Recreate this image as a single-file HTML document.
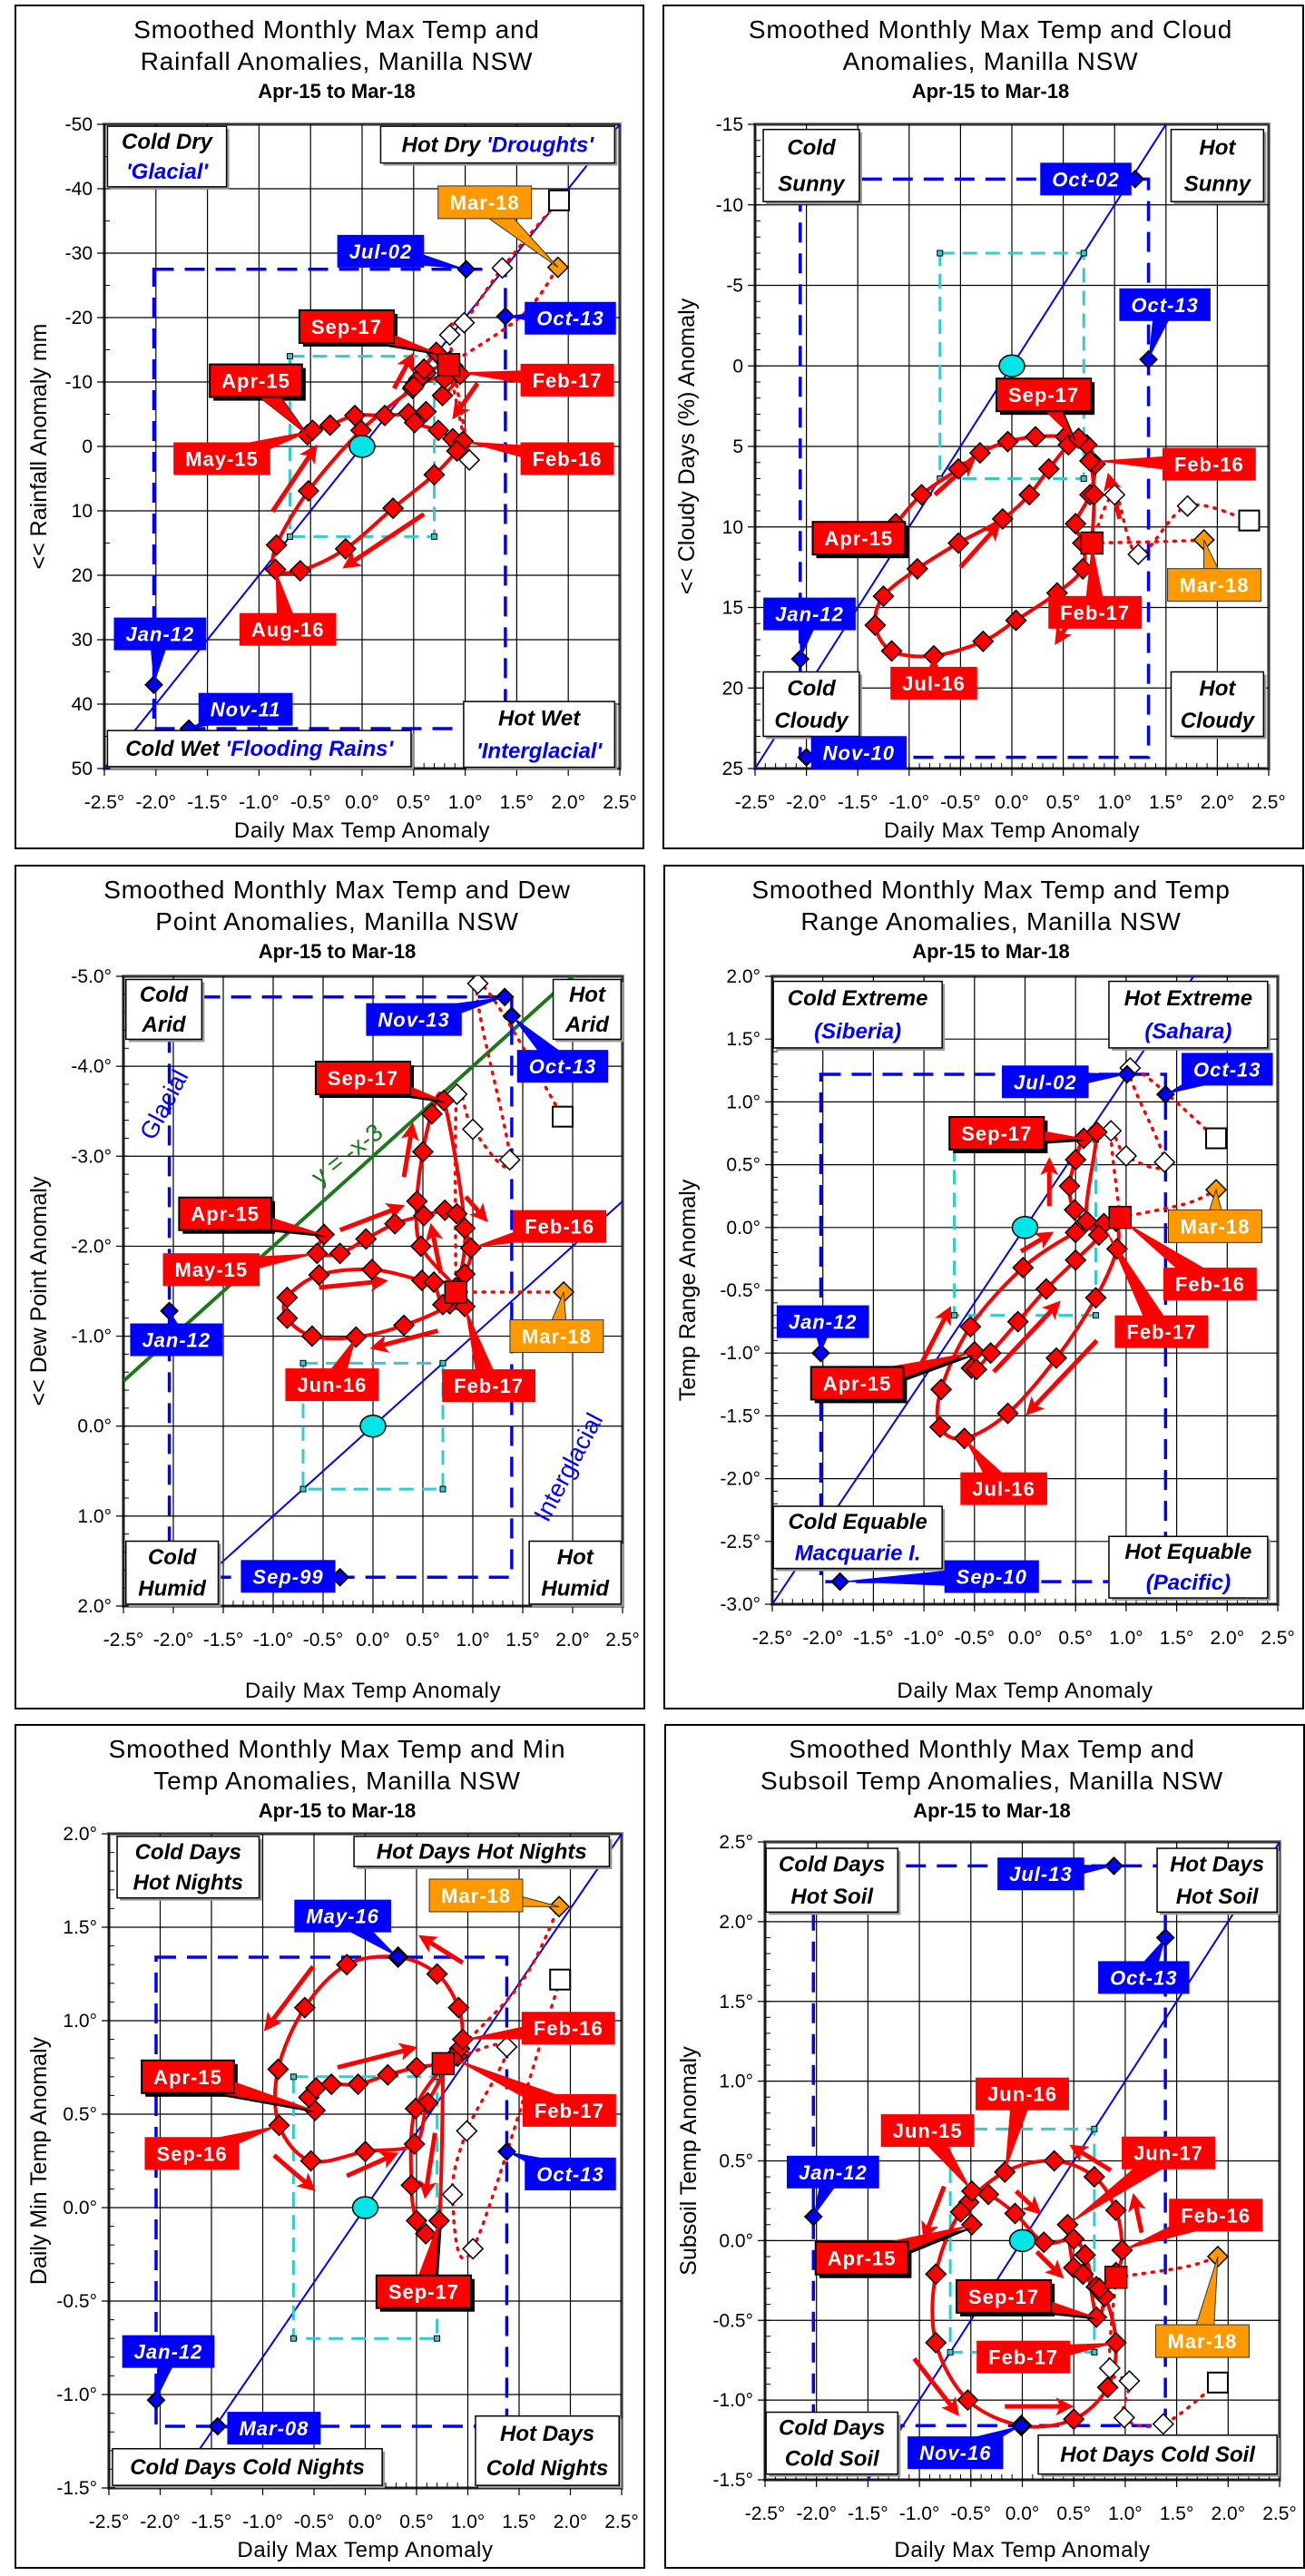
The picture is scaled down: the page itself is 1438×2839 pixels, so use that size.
<!DOCTYPE html>
<html><head><meta charset="utf-8"><title>Smoothed Monthly Max Temp Anomaly Charts, Manilla NSW</title>
<style>
html,body{margin:0;padding:0;background:#fff;}
svg{display:block;}
text{font-family:"Liberation Sans",Arial,sans-serif;}
</style></head>
<body>
<svg id="chart" xmlns="http://www.w3.org/2000/svg" width="1438" height="2839" viewBox="0 0 1438 2839">
<defs>
<marker id="ah" markerWidth="4" markerHeight="4" refX="2.6" refY="2" orient="auto" markerUnits="strokeWidth"><path d="M0,0 L4,2 L0,4 L1,2 Z" fill="#ff0000"/></marker>
</defs>
</svg>
<script>
// ---------- shared axis data ----------
const xTicks=[-2.5,-2,-1.5,-1,-0.5,0,0.5,1,1.5,2,2.5];
const xTickLabels=['-2.5°','-2.0°','-1.5°','-1.0°','-0.5°','0.0°','0.5°','1.0°','1.5°','2.0°','2.5°'];

// ---------- Panel 1: Rainfall ----------
const p1YTicks=[-50,-40,-30,-20,-10,0,10,20,30,40,50];
const p1LoopX=[-0.53,-0.48,-0.31,-0.07,0.22,0.45,0.62,0.51,0.74,0.88,0.98,0.92,0.70,0.30,-0.16,-0.60,-0.84,-0.83,-0.52,-0.01,0.49,0.52,0.92,0.88,0.82,0.62,0.55,0.50,0.60,0.72,0.85,0.95,0.78,0.80,0.84];
const p1LoopY=[-1.8,-2.5,-3.3,-4.8,-4.8,-5.1,-5.4,-3.7,-2.5,-1.2,-0.8,0.7,4.4,9.6,15.9,19.3,19.1,15.3,6.9,-2.5,-9.0,-9.8,-11.5,-12.5,-12.9,-11.4,-10.5,-9.3,-12.0,-14.6,-13.2,-11.2,-7.9,-10.5,-12.7];
const p1WhiteX=[1.04,0.85,0.99,1.36];
const p1WhiteY=[2.1,-17.3,-19.2,-27.7];
const p1SquareX=[1.91], p1SquareY=[-38.2];
const p1OrangeX=[1.90], p1OrangeY=[-27.8];
const p1BlueX=[1.01,1.39,-2.02,-1.68];
const p1BlueY=[-27.5,-20.2,37,43.8];
const p1Arrows=[[-0.87,10.1,-0.47,0.5],[0.31,-9,0.47,-13.7],[1.12,-9.8,0.91,-5],[0.6,10.5,-0.14,18.4]];
const p1Callouts=[
 {t:'Mar-18',c:'o',bx:1.19,by:-37.9,tx:1.90,ty:-27.8},
 {t:'Jul-02',c:'b',bx:0.18,by:-30.3,tx:1.01,ty:-27.5},
 {t:'Sep-17',c:'r',s:1,bx:-0.15,by:-18.6,tx:0.72,ty:-14.6},
 {t:'Apr-15',c:'r',s:1,bx:-1.03,by:-10.2,tx:-0.53,ty:-1.8},
 {t:'May-15',c:'r',bx:-1.36,by:1.9,tx:-0.48,ty:-2.5},
 {t:'Feb-17',c:'r',bx:1.99,by:-10.3,tx:0.92,ty:-11.5},
 {t:'Feb-16',c:'r',bx:1.99,by:1.9,tx:0.98,ty:-0.8},
 {t:'Oct-13',c:'b',bx:2.02,by:-19.9,tx:1.39,ty:-20.2},
 {t:'Aug-16',c:'r',bx:-0.72,by:28.4,tx:-0.84,ty:19.1},
 {t:'Jan-12',c:'b',bx:-1.96,by:29.1,tx:-2.02,ty:37},
 {t:'Nov-11',c:'b',bx:-1.13,by:40.8,tx:-1.68,ty:43.8}];

// ---------- Panel 2: Cloud ----------
const p2YTicks=[-15,-10,-5,0,5,10,15,20,25];
const p2LoopX=[-1.13,-0.88,-0.52,-0.31,-0.04,0.23,0.52,0.73,0.81,0.76,0.62,0.69,0.69,0.44,0.04,-0.28,-0.76,-1.17,-1.33,-1.25,-0.92,-0.52,-0.09,0.17,0.36,0.55,0.65,0.76,0.80,0.78];
const p2LoopY=[9.8,8.0,6.4,5.4,4.7,4.4,4.4,4.9,6.1,8.0,9.8,11.0,12.6,14.1,15.8,17.1,18.0,17.7,16.1,14.3,12.6,11.0,9.5,8.0,6.4,4.9,4.5,5.9,8.0,11.0];
const p2WhiteX=[1.0,1.23,1.71];
const p2WhiteY=[8,11.7,8.7];
const p2SquareX=[2.31], p2SquareY=[9.6];
const p2OrangeX=[1.87], p2OrangeY=[10.8];
const p2BlueX=[1.2,1.33,-2.06,-2.0];
const p2BlueY=[-11.6,-0.4,18.2,24.3];
const p2Arrows=[[-0.5,12.5,-0.15,10],[0.7,14.5,0.45,17],[1.05,9.5,0.95,7],[-0.75,8,-0.4,6]];
const p2Callouts=[
 {t:'Oct-02',c:'b',bx:0.72,by:-11.6,tx:1.2,ty:-11.6},
 {t:'Oct-13',c:'b',bx:1.49,by:-3.8,tx:1.33,ty:-0.4},
 {t:'Sep-17',c:'r',s:1,bx:0.31,by:1.8,tx:0.6,ty:4.5},
 {t:'Feb-16',c:'r',bx:1.92,by:6.1,tx:0.8,ty:5.9},
 {t:'Apr-15',c:'r',s:1,bx:-1.49,by:10.7,tx:-1.13,ty:9.8},
 {t:'Mar-18',c:'o',bx:1.97,by:13.6,tx:1.87,ty:10.8},
 {t:'Feb-17',c:'r',bx:0.81,by:15.3,tx:0.78,ty:11},
 {t:'Jul-16',c:'r',bx:-0.76,by:19.7,tx:-0.76,ty:18},
 {t:'Jan-12',c:'b',bx:-1.97,by:15.4,tx:-2.06,ty:18.2},
 {t:'Nov-10',c:'b',bx:-1.49,by:24.0,tx:-2.0,ty:24.3}];

// ---------- Panel 3: Dew point ----------
const p3YTicks=[-5,-4,-3,-2,-1,0,1,2];
const p3LoopX=[-0.49,-0.56,-0.33,-0.07,0.22,0.51,0.72,0.84,0.98,0.92,0.77,0.31,-0.17,-0.61,-0.86,-0.86,-0.54,-0.01,0.49,0.61,0.70,0.92,0.83,0.48,0.44,0.50,0.59,0.71,0.92,0.83];
const p3LoopY=[-2.13,-1.92,-1.92,-2.08,-2.25,-2.34,-2.4,-2.36,-1.98,-1.69,-1.36,-1.12,-0.99,-1.0,-1.2,-1.43,-1.68,-1.74,-1.62,-1.6,-1.35,-1.33,-1.54,-2.0,-2.5,-3.05,-3.47,-3.62,-2.2,-1.49];
const p3WhiteX=[0.84,1.0,1.37,1.05];
const p3WhiteY=[-3.69,-3.3,-2.96,-4.92];
const p3SquareX=[1.9], p3SquareY=[-3.44];
const p3OrangeX=[1.91], p3OrangeY=[-1.49];
const p3BlueX=[1.32,1.39,-2.04,-0.33];
const p3BlueY=[-4.77,-4.56,-1.28,1.68];
const p3Arrows=[[-0.33,-2.18,0.26,-2.43],[0.31,-2.77,0.39,-3.31],[0.93,-2.55,1.11,-2.32],[0.68,-1.7,0.59,-2.19],[-0.54,-1.54,0.09,-1.61],[0.65,-1.06,0.03,-0.88]];
const p3Callouts=[
 {t:'Nov-13',c:'b',bx:0.41,by:-4.52,tx:1.32,ty:-4.77},
 {t:'Oct-13',c:'b',bx:1.9,by:-4.0,tx:1.39,ty:-4.56},
 {t:'Sep-17',c:'r',s:1,bx:-0.1,by:-3.87,tx:0.71,ty:-3.62},
 {t:'Apr-15',c:'r',s:1,bx:-1.48,by:-2.36,tx:-0.49,ty:-2.13},
 {t:'May-15',c:'r',bx:-1.62,by:-1.74,tx:-0.56,ty:-1.92},
 {t:'Feb-16',c:'r',bx:1.87,by:-2.22,tx:0.98,ty:-1.98},
 {t:'Mar-18',c:'o',bx:1.84,by:-1.0,tx:1.91,ty:-1.49},
 {t:'Jan-12',c:'b',bx:-1.97,by:-0.96,tx:-2.04,ty:-1.28},
 {t:'Jun-16',c:'r',bx:-0.41,by:-0.46,tx:-0.17,ty:-0.99},
 {t:'Feb-17',c:'r',bx:1.16,by:-0.45,tx:0.92,ty:-1.33},
 {t:'Sep-99',c:'b',bx:-0.85,by:1.67,tx:-0.33,ty:1.68}];

// ---------- Panel 4: Temp range ----------
const p4YTicks=[2,1.5,1,0.5,0,-0.5,-1,-1.5,-2,-2.5,-3];
const p4LoopX=[-0.50,-0.53,-0.48,-0.34,-0.07,0.21,0.50,0.73,0.61,0.78,0.90,0.91,0.70,0.31,-0.17,-0.60,-0.84,-0.83,-0.54,-0.02,0.50,0.78,0.73,0.49,0.44,0.50,0.58,0.71,0.61,0.94];
const p4LoopY=[-0.99,-1.12,-1.13,-1.0,-0.75,-0.49,-0.26,-0.06,0.05,0.03,0.05,-0.17,-0.56,-1.04,-1.48,-1.68,-1.59,-1.29,-0.79,-0.32,-0.04,0.03,-0.06,0.14,0.33,0.54,0.71,0.76,0.05,0.08];
const p4WhiteX=[0.85,1.0,1.38,1.04];
const p4WhiteY=[0.77,0.57,0.52,1.27];
const p4SquareX=[1.89], p4SquareY=[0.71];
const p4OrangeX=[1.89], p4OrangeY=[0.3];
const p4BlueX=[1.01,1.39,-2.02,-1.83];
const p4BlueY=[1.22,1.06,-1.0,-2.82];
const p4Arrows=[[0.24,0.17,0.24,0.51],[-0.04,-0.19,0.23,-0.06],[-1.03,-1.09,-0.76,-0.67],[-0.31,-1.15,0.31,-0.62],[0.71,-0.9,0.05,-1.46]];
const p4Callouts=[
 {t:'Jul-02',c:'b',bx:0.2,by:1.16,tx:1.01,ty:1.22},
 {t:'Oct-13',c:'b',bx:2.0,by:1.26,tx:1.39,ty:1.06},
 {t:'Sep-17',c:'r',s:1,bx:-0.28,by:0.75,tx:0.58,ty:0.71},
 {t:'Mar-18',c:'o',bx:1.88,by:0.01,tx:1.89,ty:0.3},
 {t:'Feb-16',c:'r',bx:1.83,by:-0.45,tx:0.97,ty:0.05},
 {t:'Feb-17',c:'r',bx:1.35,by:-0.83,tx:0.8,ty:-0.02},
 {t:'Apr-15',c:'r',s:1,bx:-1.66,by:-1.24,tx:-0.5,ty:-0.99},
 {t:'Jul-16',c:'r',bx:-0.21,by:-2.08,tx:-0.6,ty:-1.68},
 {t:'Jan-12',c:'b',bx:-2.0,by:-0.75,tx:-2.02,ty:-1.0},
 {t:'Sep-10',c:'b',bx:-0.33,by:-2.78,tx:-1.83,ty:-2.82}];

// ---------- Panel 5: Min temp ----------
const p5YTicks=[2,1.5,1,0.5,0,-0.5,-1,-1.5];
const p5LoopX=[-0.49,-0.55,-0.48,-0.33,-0.07,0.22,0.5,0.76,0.9,0.92,0.95,0.91,0.7,0.32,-0.18,-0.59,-0.85,-0.84,-0.53,0,0.48,0.61,0.85,0.49,0.45,0.5,0.59,0.72,0.76];
const p5LoopY=[0.52,0.59,0.64,0.66,0.66,0.71,0.75,0.77,0.81,0.85,0.9,1.07,1.25,1.34,1.3,1.07,0.74,0.44,0.25,0.3,0.34,0.56,0.8,0.53,0.12,-0.07,-0.14,-0.07,0.77];
const p5WhiteX=[1.38,0.99,0.85,1.05];
const p5WhiteY=[0.86,0.41,0.07,-0.22];
const p5SquareX=[1.9], p5SquareY=[1.22];
const p5OrangeX=[1.89], p5OrangeY=[1.61];
const p5BlueX=[0.32,-2.04,-1.44,1.38];
const p5BlueY=[1.34,-1.03,-1.17,0.3];
const p5Arrows=[[-0.51,1.29,-0.95,0.97],[0.95,1.31,0.57,1.44],[-0.27,0.75,0.45,0.85],[-0.89,0.28,-0.53,0.11],[-0.18,0.17,0.27,0.28],[0.68,0.4,0.59,0.08]];
const p5Callouts=[
 {t:'Mar-18',c:'o',bx:1.08,by:1.67,tx:1.89,ty:1.61},
 {t:'May-16',c:'b',bx:-0.22,by:1.56,tx:0.32,ty:1.34},
 {t:'Feb-16',c:'r',bx:1.98,by:0.96,tx:0.95,ty:0.9},
 {t:'Apr-15',c:'r',s:1,bx:-1.73,by:0.7,tx:-0.49,ty:0.52},
 {t:'Feb-17',c:'r',bx:1.99,by:0.52,tx:0.85,ty:0.8},
 {t:'Sep-16',c:'r',bx:-1.69,by:0.29,tx:-0.84,ty:0.44},
 {t:'Oct-13',c:'b',bx:2.0,by:0.18,tx:1.38,ty:0.3},
 {t:'Sep-17',c:'r',s:1,bx:0.57,by:-0.45,tx:0.72,ty:-0.07},
 {t:'Jan-12',c:'b',bx:-1.92,by:-0.77,tx:-2.04,ty:-1.03},
 {t:'Mar-08',c:'b',bx:-0.89,by:-1.18,tx:-1.44,ty:-1.17}];

// ---------- Panel 6: Subsoil ----------
const p6YTicks=[2.5,2,1.5,1,0.5,0,-0.5,-1,-1.5];
const p6LoopX=[-0.49,-0.52,-0.49,-0.33,-0.07,0.21,0.5,0.61,0.72,0.91,0.97,0.91,0.7,0.31,-0.17,-0.6,-0.84,-0.84,-0.53,-0.01,0.5,0.83,0.91,0.8,0.59,0.5,0.44,0.5,0.61,0.72,0.8,0.72,0.59,0.75,0.91];
const p6LoopY=[0.10,0.24,0.31,0.29,0.17,-0.01,0.01,-0.09,-0.29,-0.2,-0.06,0.19,0.4,0.5,0.43,0.18,-0.21,-0.64,-1.0,-1.16,-1.12,-0.92,-0.64,-0.35,-0.21,-0.17,0.1,0.01,-0.09,-0.48,-0.35,-0.29,-0.21,-0.3,-0.23];
const p6WhiteX=[0.85,1.04,0.99,1.37];
const p6WhiteY=[-0.8,-0.88,-1.11,-1.15];
const p6SquareX=[1.9], p6SquareY=[-0.89];
const p6OrangeX=[1.9], p6OrangeY=[-0.1];
const p6BlueX=[0.89,1.39,-2.03,-0.01];
const p6BlueY=[2.35,1.9,0.15,-1.16];
const p6Arrows=[[-0.76,0.34,-0.94,0.04],[-0.06,0.31,0.14,0.19],[0.14,-0.07,0.36,-0.21],[0.86,0.44,0.51,0.58],[1.16,0.05,1.09,0.26],[-1.05,-0.74,-0.65,-1.07],[-0.17,-1.04,0.44,-1.04]];
const p6Callouts=[
 {t:'Jun-16',c:'r',bx:0,by:0.92,tx:-0.17,ty:0.43},
 {t:'Jun-15',c:'r',bx:-0.92,by:0.69,tx:-0.49,ty:0.31},
 {t:'Jun-17',c:'r',bx:1.42,by:0.55,tx:0.44,ty:0.1},
 {t:'Feb-16',c:'r',bx:1.88,by:0.16,tx:0.97,ty:-0.06},
 {t:'Apr-15',c:'r',s:1,bx:-1.56,by:-0.11,tx:-0.49,ty:0.10},
 {t:'Sep-17',c:'r',s:1,bx:-0.18,by:-0.35,tx:0.72,ty:-0.48},
 {t:'Feb-17',c:'r',bx:0.01,by:-0.73,tx:0.91,ty:-0.64},
 {t:'Mar-18',c:'o',bx:1.75,by:-0.63,tx:1.9,ty:-0.1},
 {t:'Jul-13',c:'b',bx:0.18,by:2.3,tx:0.89,ty:2.35},
 {t:'Oct-13',c:'b',bx:1.18,by:1.65,tx:1.39,ty:1.9},
 {t:'Jan-12',c:'b',bx:-1.84,by:0.43,tx:-2.03,ty:0.15},
 {t:'Nov-16',c:'b',bx:-0.65,by:-1.33,tx:-0.01,ty:-1.16}];

const K='#000', BL='#0000ff';
const panels=[
 {id:'rainfall',frame:[17,6,709,935],plot:[115,137,683,847],yT:p1YTicks,minor:2,deg:false,slope:-20,cyanH:14,
  title:['Smoothed Monthly Max Temp and','Rainfall Anomalies, Manilla NSW'],ytitle:'<< Rainfall Anomaly mm',
  lx:p1LoopX,ly:p1LoopY,wx:p1WhiteX,wy:p1WhiteY,sqx:p1SquareX,sqy:p1SquareY,ox:p1OrangeX,oy:p1OrangeY,bx:p1BlueX,by:p1BlueY,arrows:p1Arrows,callouts:p1Callouts,
  quads:[[0.006,0.003,0.237,0.097,[[['Cold Dry',K]],[["'Glacial'",BL]]]],[0.536,0.003,0.99,0.06,[[['Hot  Dry  ',K],["'Droughts'",BL]]]],[0.006,0.941,0.595,0.997,[[['Cold Wet ',K],["'Flooding Rains'",BL]]]],[0.697,0.896,0.99,0.998,[[['Hot Wet',K]],[["'Interglacial'",BL]]]]]},
 {id:'cloud',frame:[731,6,1436,935],plot:[832,137,1398,847],yT:p2YTicks,minor:5,deg:false,slope:-10,cyanH:7,
  title:['Smoothed Monthly Max Temp and Cloud','Anomalies, Manilla NSW'],ytitle:'<< Cloudy Days (%) Anomaly',
  lx:p2LoopX,ly:p2LoopY,wx:p2WhiteX,wy:p2WhiteY,sqx:p2SquareX,sqy:p2SquareY,ox:p2OrangeX,oy:p2OrangeY,bx:p2BlueX,by:p2BlueY,arrows:p2Arrows,callouts:p2Callouts,
  quads:[[0.016,0.008,0.203,0.12,[[['Cold',K]],[['Sunny',K]]]],[0.81,0.008,0.99,0.12,[[['Hot',K]],[['Sunny',K]]]],[0.016,0.85,0.203,0.95,[[['Cold',K]],[['Cloudy',K]]]],[0.81,0.85,0.99,0.95,[[['Hot',K]],[['Cloudy',K]]]]]},
 {id:'dew-point',frame:[17,954,710,1883],plot:[136,1076,686,1770],yT:p3YTicks,minor:5,deg:true,slope:-1,cyanH:0.7,green:true,
  title:['Smoothed Monthly Max Temp and Dew','Point Anomalies, Manilla NSW'],ytitle:'<< Dew Point Anomaly',
  lx:p3LoopX,ly:p3LoopY,wx:p3WhiteX,wy:p3WhiteY,sqx:p3SquareX,sqy:p3SquareY,ox:p3OrangeX,oy:p3OrangeY,bx:p3BlueX,by:p3BlueY,arrows:p3Arrows,callouts:p3Callouts,
  quads:[[0.005,0.005,0.157,0.1,[[['Cold',K]],[['Arid',K]]]],[0.861,0.005,0.997,0.1,[[['Hot',K]],[['Arid',K]]]],[0.005,0.897,0.19,0.997,[[['Cold',K]],[['Humid',K]]]],[0.813,0.897,0.997,0.997,[[['Hot',K]],[['Humid',K]]]]],
  texts:[['Glacial',-2.02,-3.53,-62,BL,'glacial-label'],['y = -x-3',-0.21,-2.95,-38,'#1a7a1a','green-line-label'],['Interglacial',2.03,0.5,-62,BL,'interglacial-label']]},
 {id:'temp-range',frame:[732,954,1436,1883],plot:[851,1076,1408,1768],yT:p4YTicks,minor:5,deg:true,slope:1.2,cyanH:0.7,
  title:['Smoothed Monthly Max Temp and Temp','Range Anomalies, Manilla NSW'],ytitle:'Temp Range Anomaly',
  lx:p4LoopX,ly:p4LoopY,wx:p4WhiteX,wy:p4WhiteY,sqx:p4SquareX,sqy:p4SquareY,ox:p4OrangeX,oy:p4OrangeY,bx:p4BlueX,by:p4BlueY,arrows:p4Arrows,callouts:p4Callouts,
  quads:[[0.002,0.008,0.336,0.114,[[['Cold Extreme',K]],[['(Siberia)',BL]]]],[0.666,0.008,0.98,0.114,[[['Hot Extreme',K]],[['(Sahara)',BL]]]],[0.002,0.844,0.336,0.943,[[['Cold Equable',K]],[['Macquarie I.',BL]]]],[0.666,0.892,0.98,0.99,[[['Hot Equable',K]],[['(Pacific)',BL]]]]]},
 {id:'min-temp',frame:[17,1901,710,2830],plot:[120,2021,685,2742],yT:p5YTicks,minor:5,deg:true,slope:0.8,cyanH:0.7,
  title:['Smoothed Monthly Max Temp and Min','Temp Anomalies, Manilla NSW'],ytitle:'Daily Min Temp Anomaly',
  lx:p5LoopX,ly:p5LoopY,wx:p5WhiteX,wy:p5WhiteY,sqx:p5SquareX,sqy:p5SquareY,ox:p5OrangeX,oy:p5OrangeY,bx:p5BlueX,by:p5BlueY,arrows:p5Arrows,callouts:p5Callouts,
  quads:[[0.016,0.004,0.293,0.098,[[['Cold  Days',K]],[['Hot Nights',K]]]],[0.478,0.004,0.976,0.05,[[['Hot  Days Hot Nights',K]]]],[0.007,0.94,0.533,0.996,[[['Cold  Days Cold Nights',K]]]],[0.715,0.89,0.995,0.996,[[['Hot  Days',K]],[['Cold Nights',K]]]]]},
 {id:'subsoil',frame:[733,1901,1437,2830],plot:[843,2030,1410,2733],yT:p6YTicks,minor:5,deg:true,slope:1,cyanH:0.7,
  title:['Smoothed Monthly Max Temp and','Subsoil Temp Anomalies, Manilla NSW'],ytitle:'Subsoil Temp Anomaly',
  lx:p6LoopX,ly:p6LoopY,wx:p6WhiteX,wy:p6WhiteY,sqx:p6SquareX,sqy:p6SquareY,ox:p6OrangeX,oy:p6OrangeY,bx:p6BlueX,by:p6BlueY,arrows:p6Arrows,callouts:p6Callouts,
  quads:[[0.002,0.01,0.258,0.11,[[['Cold Days',K]],[['Hot Soil',K]]]],[0.762,0.01,0.995,0.11,[[['Hot Days',K]],[['Hot Soil',K]]]],[0.002,0.894,0.258,0.991,[[['Cold Days',K]],[['Cold Soil',K]]]],[0.531,0.93,0.995,0.991,[[['Hot Days Cold Soil',K]]]]]}
];

const NS='http://www.w3.org/2000/svg';
const svg=document.getElementById('chart');
function E(tag,attrs,parent,name,inter){
  const e=document.createElementNS(NS,tag);
  for(const k in attrs) e.setAttribute(k,attrs[k]);
  
  
  (parent||svg).appendChild(e);
  return e;
}
function smoothPath(pts){
  let d='M'+pts[0][0]+','+pts[0][1];
  for(let i=0;i<pts.length-1;i++){
    const p0=pts[i-1]||pts[i],p1=pts[i],p2=pts[i+1],p3=pts[i+2]||p2;
    const c1=[p1[0]+(p2[0]-p0[0])/6,p1[1]+(p2[1]-p0[1])/6];
    const c2=[p2[0]-(p3[0]-p1[0])/6,p2[1]-(p3[1]-p1[1])/6];
    d+=' C'+c1[0]+','+c1[1]+' '+c2[0]+','+c2[1]+' '+p2[0]+','+p2[1];
  }
  return d;
}
function diamond(g,x,y,h,fill,sw,name){
  E('polygon',{points:`${x},${y-h} ${x+h},${y} ${x},${y+h} ${x-h},${y}`,fill:fill,stroke:'#000','stroke-width':sw},g,name,false);
}

panels.forEach((P,pi)=>{
  const g=E('g',{},svg,'panel-'+P.id,false);
  const [fx0,fy0,fx1,fy1]=P.frame;
  const [L,T,R,B]=P.plot;
  const ytop=P.yT[0], ybot=P.yT[P.yT.length-1];
  const sx=v=>L+(v+2.5)/5*(R-L);
  const sy=v=>T+(v-ytop)/(ybot-ytop)*(B-T);
  E('rect',{x:fx0,y:fy0,width:fx1-fx0,height:fy1-fy0,fill:'#fff',stroke:'#000','stroke-width':2},g,'panel-frame',false);
  const cx=(fx0+fx1)/2+8;
  E('text',{x:cx,y:fy0+36,'text-anchor':'middle','font-size':28,'letter-spacing':'0.8'},g,'chart-title-line-1',false).textContent=P.title[0];
  E('text',{x:cx,y:fy0+71,'text-anchor':'middle','font-size':28,'letter-spacing':'0.8'},g,'chart-title-line-2',false).textContent=P.title[1];
  E('text',{x:cx,y:fy0+102,'text-anchor':'middle','font-size':22,'font-weight':'bold'},g,'chart-subtitle',false).textContent='Apr-15 to Mar-18';
  E('rect',{x:L,y:T,width:R-L,height:B-T,fill:'#fff',stroke:'#8c8c8c','stroke-width':4},g,'plot-area',false);
  const clipId='clip'+pi;
  const cp=E('clipPath',{id:clipId},g,'plot-clip',false);
  E('rect',{x:L,y:T,width:R-L,height:B-T},cp,'plot-clip-rect',false);
  const grid=E('g',{stroke:'#000','stroke-width':1.2},g,'gridlines',false);
  xTicks.forEach((v,i)=>{E('line',{x1:sx(v),y1:T,x2:sx(v),y2:B+8},grid,'x-gridline',false);});
  P.yT.forEach(v=>{E('line',{x1:L-8,y1:sy(v),x2:R,y2:sy(v)},grid,'y-gridline',false);});
  const mt=E('g',{stroke:'#000','stroke-width':1},g,'minor-ticks',false);
  for(let k=0;k<=50;k++){const v=-2.5+k*0.1;E('line',{x1:sx(v),y1:B,x2:sx(v),y2:B-6},mt,'x-minor-tick',false);}
  const ystep=(ybot-ytop)/(P.yT.length-1);
  const nm=(P.yT.length-1)*P.minor;
  for(let k=0;k<=nm;k++){const v=ytop+k*ystep/P.minor;E('line',{x1:L,y1:sy(v),x2:L+6,y2:sy(v)},mt,'y-minor-tick',false);}
  E('line',{x1:L,y1:T,x2:L,y2:B,stroke:'#000','stroke-width':1.5},g,'y-axis-line',false);
  E('line',{x1:L,y1:B,x2:R,y2:B,stroke:'#000','stroke-width':1.5},g,'x-axis-line',false);
  xTicks.forEach((v,i)=>{E('text',{x:sx(v),y:B+44,'text-anchor':'middle','font-size':21},g,'x-tick-label',false).textContent=xTickLabels[i];});
  P.yT.forEach(v=>{
    const lab=P.deg?(v.toFixed(1)+'°'):String(v);
    E('text',{x:L-13,y:sy(v)+7,'text-anchor':'end','font-size':21},g,'y-tick-label',false).textContent=lab;
  });
  E('text',{x:(L+R)/2,y:fy1-12,'text-anchor':'middle','font-size':24,'letter-spacing':'0.6'},g,'x-axis-title',false).textContent='Daily Max Temp Anomaly';
  const yt=E('text',{x:fx0+34,y:(T+B)/2,'text-anchor':'middle','font-size':25,transform:`rotate(-90 ${fx0+34} ${(T+B)/2})`,style:'font-family:"Liberation Sans Narrow","Liberation Sans",sans-serif'},g,'y-axis-title',false);
  yt.textContent=P.ytitle;
  const cl=E('g',{'clip-path':`url(#${clipId})`},g,'plot-content',false);
  E('line',{x1:sx(-2.5),y1:sy(-2.5*P.slope),x2:sx(2.5),y2:sy(2.5*P.slope),stroke:'#0000ff','stroke-width':2},cl,'diagonal-reference-line',false);
  if(P.green){E('line',{x1:sx(-2.5),y1:sy(-0.5),x2:sx(2.5),y2:sy(-5.5),stroke:'#1a7a1a','stroke-width':4},cl,'green-reference-line',false);}
  const bxmin=Math.min(...P.bx),bxmax=Math.max(...P.bx),bymin=Math.min(...P.by),bymax=Math.max(...P.by);
  E('rect',{x:sx(bxmin),y:Math.min(sy(bymin),sy(bymax)),width:sx(bxmax)-sx(bxmin),height:Math.abs(sy(bymax)-sy(bymin)),fill:'none',stroke:'#0000ff','stroke-width':3.5,'stroke-dasharray':'22 12'},cl,'record-extremes-box',false);
  const cx0=sx(-0.7),cx1=sx(0.7),cy0=Math.min(sy(P.cyanH),sy(-P.cyanH)),cy1=Math.max(sy(P.cyanH),sy(-P.cyanH));
  E('rect',{x:cx0,y:cy0,width:cx1-cx0,height:cy1-cy0,fill:'none',stroke:'#33cccc','stroke-width':3,'stroke-dasharray':'16 9'},cl,'normal-range-box',false);
  [[cx0,cy0],[cx1,cy0],[cx0,cy1],[cx1,cy1]].forEach(p=>{E('rect',{x:p[0]-3,y:p[1]-3,width:6,height:6,fill:'#33cccc',stroke:'#000','stroke-width':1},cl,'normal-range-corner',false);});
  P.quads.forEach(q=>{
    const x0=L+q[0]*(R-L),y0=T+q[1]*(B-T),x1=L+q[2]*(R-L),y1=T+q[3]*(B-T);
    const qg=E('g',{},g,'quadrant-label-box',false);
    E('rect',{x:x0+3,y:y0+3,width:x1-x0,height:y1-y0,fill:'#999'},qg,'quadrant-box-shadow',false);
    E('rect',{x:x0,y:y0,width:x1-x0,height:y1-y0,fill:'#fff',stroke:'#000','stroke-width':1.5},qg,'quadrant-box',false);
    const n=q[4].length,lh=(y1-y0)/n;
    q[4].forEach((line,li)=>{
      const t=E('text',{x:(x0+x1)/2,y:y0+lh*li+lh/2+8,'text-anchor':'middle','font-size':24,'font-weight':'bold','font-style':'italic','xml:space':'preserve'},qg,'quadrant-label-text',false);
      line.forEach(seg=>{const ts=E('tspan',{fill:seg[1]},t,'quadrant-label-segment',false);ts.textContent=seg[0];});
    });
  });
  const red=P.lx.map((v,i)=>[sx(v),sy(P.ly[i])]);
  const last=red[red.length-1];
  const whites=P.wx.map((v,i)=>[sx(v),sy(P.wy[i])]);
  const sq=[sx(P.sqx[0]),sy(P.sqy[0])], org=[sx(P.ox[0]),sy(P.oy[0])];
  const dot=[last].concat(whites).concat([sq]);
  E('path',{d:smoothPath(dot),fill:'none',stroke:'#ff0000','stroke-width':3.5,'stroke-dasharray':'2 8','stroke-linecap':'round'},cl,'projection-dotted-line',false);
  E('path',{d:smoothPath([last,[(last[0]+org[0])/2+20,(last[1]+org[1])/2],org]),fill:'none',stroke:'#ff0000','stroke-width':3.5,'stroke-dasharray':'2 8','stroke-linecap':'round'},cl,'latest-dotted-line',false);
  E('path',{d:smoothPath(red),fill:'none',stroke:'#ff0000','stroke-width':4,'stroke-linejoin':'round'},cl,'smoothed-trajectory-line',false);
  P.arrows.forEach(a=>{E('line',{x1:sx(a[0]),y1:sy(a[1]),x2:sx(a[2]),y2:sy(a[3]),stroke:'#ff0000','stroke-width':5,'marker-end':'url(#ah)'},cl,'direction-arrow',false);});
  whites.forEach(p=>diamond(cl,p[0],p[1],11,'#fff',1.5,'projected-month-marker'));
  E('rect',{x:sq[0]-11,y:sq[1]-11,width:22,height:22,fill:'#fff',stroke:'#000','stroke-width':2},cl,'projection-square-marker',false);
  red.forEach((p,i)=>{ if(i<red.length-1) diamond(cl,p[0],p[1],11,'#ff0000',1.5,'month-marker'); });
  E('rect',{x:last[0]-12,y:last[1]-12,width:24,height:24,fill:'#ff0000',stroke:'#000','stroke-width':1.5},cl,'latest-month-square',false);
  diamond(cl,org[0],org[1],11,'#ff9900',1.5,'mar-18-marker');
  P.bx.forEach((v,i)=>diamond(cl,sx(v),sy(P.by[i]),9,'#0000ff',2,'record-month-marker'));
  E('ellipse',{cx:sx(0),cy:sy(0),rx:14,ry:12,fill:'#00e5e5',stroke:'#000','stroke-width':1.5},cl,'origin-marker',false);
  (P.texts||[]).forEach(t=>{
    const x=sx(t[1]),y=sy(t[2]);
    E('text',{x:x,y:y,'text-anchor':'middle','font-size':27,fill:t[4],transform:`rotate(${t[3]} ${x} ${y})`},g,t[5],false).textContent=t[0];
  });
  P.callouts.forEach(c=>{
    const cg=E('g',{},g,'callout-'+c.t.toLowerCase(),false);
    const bx=sx(c.bx),by=sy(c.by),tx=sx(c.tx),ty=sy(c.ty);
    const fill=c.c==='r'?'#ff0000':c.c==='b'?'#0000ff':'#ff9900';
    const tmp=E('text',{x:0,y:0,'font-size':22,'font-weight':'bold','font-style':c.c==='b'?'italic':'normal','letter-spacing':'1'},svg,'measure-text',false);
    tmp.textContent=c.t;
    const w=tmp.getComputedTextLength()+26; svg.removeChild(tmp);
    const h=36;
    const dx=tx-bx,dy=ty-by,len=Math.hypot(dx,dy)||1;
    const px=-dy/len*12,py=dx/len*12;
    const pts=`${bx+px},${by+py} ${bx-px},${by-py} ${tx},${ty}`;
    if(c.s){
      E('polygon',{points:pts,fill:'#000',transform:'translate(3,3)'},cg,'callout-pointer-shadow',false);
      E('rect',{x:bx-w/2+4,y:by-h/2+4,width:w,height:h,fill:'#000'},cg,'callout-box-shadow',false);
    }
    E('polygon',{points:pts,fill:fill,stroke:c.c==='o'?'#333':'none','stroke-width':1},cg,'callout-pointer',false);
    E('rect',{x:bx-w/2,y:by-h/2,width:w,height:h,fill:fill,stroke:c.s?'#000':(c.c==='o'?'#333':'none'),'stroke-width':c.s?2:1},cg,'callout-box',false);
    const tt=E('text',{x:bx,y:by+8,'text-anchor':'middle','font-size':22,'font-weight':'bold','font-style':c.c==='b'?'italic':'normal','letter-spacing':'1',fill:'#fff'},cg,'callout-label',false);
    tt.textContent=c.t;
  });
});
</script>
</body></html>
